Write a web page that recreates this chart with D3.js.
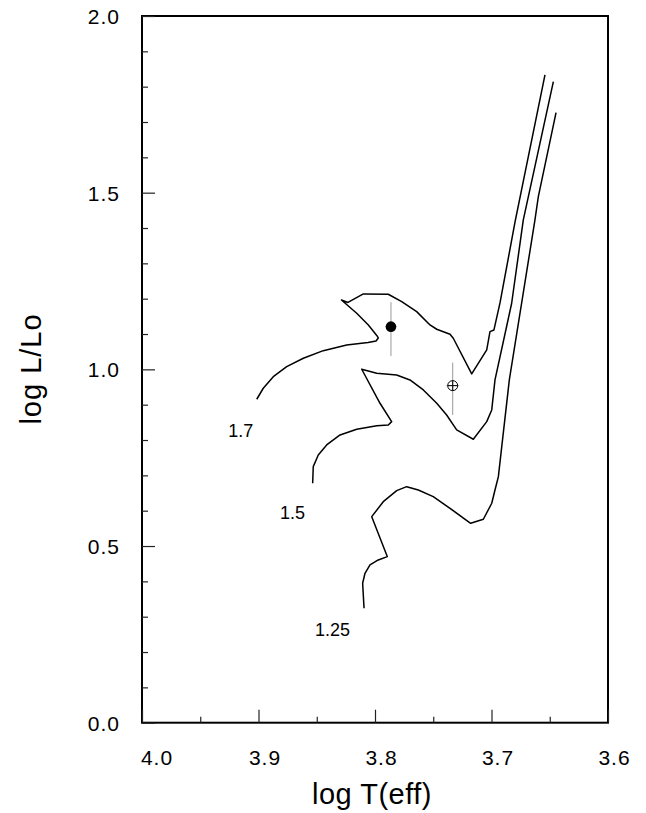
<!DOCTYPE html>
<html>
<head>
<meta charset="utf-8">
<script src="https://cdn.jsdelivr.net/npm/d3@7"></script>
<style>
  html, body { margin: 0; padding: 0; background: #fff; }
  svg { display: block; font-family: "Liberation Sans", Arial, sans-serif; }
</style>
</head>
<body>
<svg id="chart" width="646" height="813"></svg>
<script>
// ---- data (log Teff, log L/Lo) ----
const track17 = [
  [3.9015,0.9154],[3.8959,0.9465],[3.8873,0.9793],[3.8758,1.0076],[3.8615,1.0314],
  [3.8444,1.0529],[3.8243,1.0691],[3.8060,1.0761],[3.7991,1.0804],[3.7972,1.0889],
  [3.7985,1.0960],[3.8057,1.1257],[3.8157,1.1588],[3.8288,1.1964],[3.8232,1.1894],
  [3.8100,1.2134],[3.7886,1.2126],[3.7771,1.1916],[3.7642,1.1633],[3.7528,1.1257],
  [3.7470,1.1135],[3.7356,1.0994],[3.7328,1.0880],[3.7170,0.9870],[3.7041,1.0549],
  [3.7013,1.1067],[3.6979,1.1115],[3.6927,1.1879],[3.6798,1.4172],[3.6541,1.8333]
];
const track15 = [
  [3.8535,0.6776],[3.8530,0.7246],[3.8487,0.7577],[3.8415,0.7860],[3.8300,0.8143],
  [3.8157,0.8305],[3.7985,0.8406],[3.7886,0.8426],[3.7857,0.8520],[3.7957,0.9040],
  [3.8114,1.0003],[3.7985,0.9890],[3.7814,0.9841],[3.7700,0.9700],[3.7585,0.9417],
  [3.7470,0.9040],[3.7385,0.8709],[3.7299,0.8285],[3.7156,0.8022],[3.7041,0.8520],
  [3.6998,0.8851],[3.6970,0.9700],[3.6827,1.1871],[3.6727,1.4229],[3.6469,1.8143]
];
const track125 = [
  [3.8094,0.3238],[3.8106,0.3946],[3.8086,0.4229],[3.8043,0.4464],[3.7972,0.4605],
  [3.7894,0.4699],[3.8028,0.5831],[3.7929,0.6255],[3.7814,0.6567],[3.7728,0.6680],
  [3.7628,0.6586],[3.7500,0.6397],[3.7356,0.6068],[3.7179,0.5644],[3.7070,0.5757],
  [3.6998,0.6210],[3.6970,0.6586],[3.6941,0.6963],[3.6912,0.7812],[3.6847,0.9700],
  [3.6627,1.4229],[3.6598,1.4888],[3.6446,1.7266]
];
const trackNames = ["1.7", "1.5", "1.25"];
const trackLabelPos = [[3.9259,0.8087],[3.8815,0.5766],[3.8515,0.2454]];

// stars: logT, logL, logL low, logL high, logT half-width
const starFilled = [3.7863, 1.1209, 1.038, 1.190, 0.0050];
const starOpen   = [3.7333, 0.9539, 0.871, 1.019, 0.0057];

const xMajor = [4.0, 3.9, 3.8, 3.7, 3.6];
const xMinor = [3.95, 3.85, 3.75, 3.65];
const yMajor = [0.0, 0.5, 1.0, 1.5, 2.0];
const yMinor = [0.1,0.2,0.3,0.4,0.6,0.7,0.8,0.9,1.1,1.2,1.3,1.4,1.6,1.7,1.8,1.9];
const xTitle = "log T(eff)";
const yTitle = "log L/Lo";

// ---- layout ----
const svg = d3.select("#chart");
const L = 142, R = 608, T = 16, B = 722.7;
const x = d3.scaleLinear().domain([4.0, 3.6]).range([L, R]);
const y = d3.scaleLinear().domain([0, 2]).range([B, T]);

// frame
svg.append("rect").attr("x", L).attr("y", T).attr("width", R - L).attr("height", B - T)
  .attr("fill", "none").attr("stroke", "#000").attr("stroke-width", 2);

// x axis ticks (inward)
const gx = svg.append("g").attr("transform", `translate(0,${B})`);
gx.call(d3.axisBottom(x).tickValues(xMajor).tickSize(-13).tickFormat(""))
gx.append("g").call(d3.axisBottom(x).tickValues(xMinor).tickSize(-6).tickFormat(""));
gx.selectAll(".domain").remove();
gx.selectAll("line").attr("stroke", "#222").attr("stroke-width", 1.2);
gx.selectAll(".xlab").data(xMajor).enter().append("text")
  .attr("class", "xlab")
  .attr("x", (d, i) => x(d) + (i === 0 ? 15 : 6.5))
  .attr("y", 42)
  .attr("text-anchor", "middle")
  .attr("font-size", 21).attr("letter-spacing", 1)
  .attr("fill", "#000")
  .text(d => d.toFixed(1));

// y axis ticks (inward)
const gy = svg.append("g").attr("transform", `translate(${L},0)`);
gy.call(d3.axisLeft(y).tickValues(yMajor).tickSize(-13).tickFormat(""));
gy.append("g").call(d3.axisLeft(y).tickValues(yMinor).tickSize(-6).tickFormat(""));
gy.selectAll(".domain").remove();
gy.selectAll("line").attr("stroke", "#222").attr("stroke-width", 1.2);
gy.selectAll(".ylab").data(yMajor).enter().append("text")
  .attr("class", "ylab")
  .attr("x", -22)
  .attr("y", d => y(d) + 8)
  .attr("text-anchor", "end")
  .attr("font-size", 21).attr("letter-spacing", 1)
  .attr("fill", "#000")
  .text(d => d.toFixed(1));

// axis titles
svg.append("text").attr("x", 372).attr("y", 804).attr("text-anchor", "middle")
  .attr("font-size", 29).attr("letter-spacing", 0.5).attr("fill", "#000").text(xTitle);
svg.append("text").attr("transform", `translate(41,369) rotate(-90)`)
  .attr("text-anchor", "middle").attr("font-size", 29).attr("letter-spacing", 1)
  .attr("fill", "#000").text(yTitle);

// tracks
const line = d3.line().x(d => x(d[0])).y(d => y(d[1]));
[track17, track15, track125].forEach(tr => {
  svg.append("path").datum(tr).attr("d", line)
    .attr("fill", "none").attr("stroke", "#000").attr("stroke-width", 1.5)
    .attr("stroke-linejoin", "round");
});
svg.selectAll(".tlab").data(trackNames).enter().append("text")
  .attr("class", "tlab")
  .attr("x", (d, i) => x(trackLabelPos[i][0]))
  .attr("y", (d, i) => y(trackLabelPos[i][1]))
  .attr("font-size", 18).attr("fill", "#000")
  .text(d => d);

// stars with error bars
function errorBars(s) {
  svg.append("line").attr("x1", x(s[0])).attr("x2", x(s[0]))
    .attr("y1", y(s[2])).attr("y2", y(s[3]))
    .attr("stroke", "#999").attr("stroke-width", 1);
  svg.append("line").attr("x1", x(s[0] + s[4])).attr("x2", x(s[0] - s[4]))
    .attr("y1", y(s[1])).attr("y2", y(s[1]))
    .attr("stroke", "#bbb").attr("stroke-width", 1);
}
errorBars(starFilled);
errorBars(starOpen);
svg.append("circle").attr("cx", x(starFilled[0])).attr("cy", y(starFilled[1])).attr("r", 5.3)
  .attr("fill", "#000");
svg.append("circle").attr("cx", x(starOpen[0])).attr("cy", y(starOpen[1])).attr("r", 5)
  .attr("fill", "none").attr("stroke", "#000").attr("stroke-width", 1);
svg.append("line").attr("x1", x(starOpen[0]) - 5).attr("x2", x(starOpen[0]) + 5)
  .attr("y1", y(starOpen[1])).attr("y2", y(starOpen[1]))
  .attr("stroke", "#000").attr("stroke-width", 1);
svg.append("line").attr("x1", x(starOpen[0])).attr("x2", x(starOpen[0]))
  .attr("y1", y(starOpen[1]) - 5).attr("y2", y(starOpen[1]) + 5)
  .attr("stroke", "#000").attr("stroke-width", 1);
</script>
</body>
</html>
